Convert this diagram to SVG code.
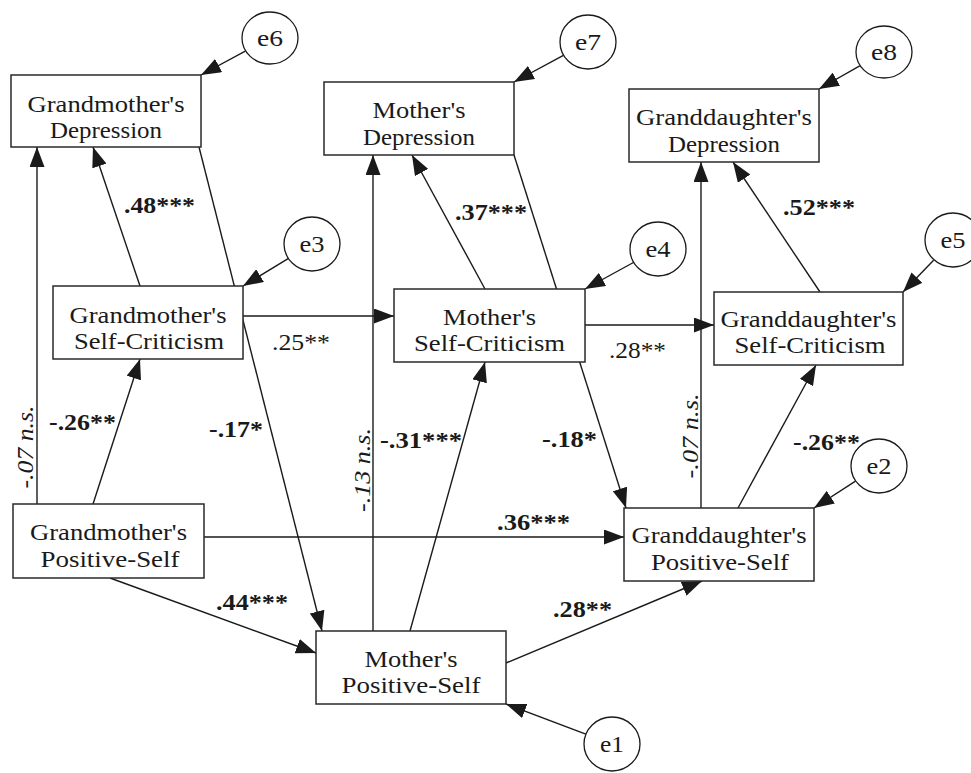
<svg xmlns="http://www.w3.org/2000/svg" width="971" height="773" viewBox="0 0 971 773">
<defs>
<marker id="ah" viewBox="0 0 20 15" refX="20" refY="7.5" markerWidth="20" markerHeight="15" orient="auto" markerUnits="userSpaceOnUse">
<path d="M0,0 L20,7.5 L0,15 Z" fill="#1a1a1a"/>
</marker>
<style>
text{font-family:'Liberation Serif','Times New Roman',Times,serif;font-size:23.5px;fill:#1a1a1a}
.box{fill:#fff;stroke:#2a2a2a;stroke-width:1.5}
.err{fill:#fff;stroke:#1a1a1a;stroke-width:1.3}
.t{text-anchor:middle;font-size:24px}
.c line{stroke:#1a1a1a;stroke-width:1.4;marker-end:url(#ah)}
.lb{font-weight:bold}
.li{font-style:italic;text-anchor:middle}
</style>
</defs>
<rect width="971" height="773" fill="#fff"/>

<g id="connectors" class="c">
<line x1="245.3" y1="51.2" x2="201" y2="75"/>
<line x1="563.4" y1="55.3" x2="514" y2="82"/>
<line x1="859.7" y1="65.9" x2="819" y2="89"/>
<line x1="288.1" y1="258.6" x2="243" y2="286"/>
<line x1="633.4" y1="262.5" x2="585" y2="289"/>
<line x1="933.6" y1="260.2" x2="903" y2="292"/>
<line x1="855.5" y1="481.2" x2="814" y2="508"/>
<line x1="585.8" y1="734.1" x2="506" y2="704"/>
<line x1="37" y1="504" x2="37" y2="147"/>
<line x1="93" y1="504" x2="140" y2="359"/>
<line x1="140" y1="286" x2="93" y2="147"/>
<line x1="199" y1="147" x2="322" y2="631"/>
<line x1="243" y1="316" x2="394" y2="316"/>
<line x1="373" y1="631" x2="373" y2="155"/>
<line x1="410" y1="631" x2="485" y2="362"/>
<line x1="485" y1="289" x2="412" y2="155"/>
<line x1="514" y1="155" x2="626" y2="508"/>
<line x1="585" y1="325" x2="714" y2="325"/>
<line x1="701" y1="508" x2="701" y2="162"/>
<line x1="738" y1="508" x2="816" y2="365"/>
<line x1="820" y1="292" x2="733" y2="162"/>
<line x1="204" y1="537" x2="624" y2="537"/>
<line x1="110" y1="578" x2="316" y2="653"/>
<line x1="506" y1="663" x2="702" y2="581"/>
</g>

<g id="labels">
<text class="lb" x="124" y="213" textLength="71" lengthAdjust="spacingAndGlyphs">.48***</text>
<text class="lb" x="49" y="430" textLength="67" lengthAdjust="spacingAndGlyphs">-.26**</text>
<text class="lb" x="209" y="437" textLength="54" lengthAdjust="spacingAndGlyphs">-.17*</text>
<text x="272" y="350" textLength="58" lengthAdjust="spacingAndGlyphs">.25**</text>
<text class="lb" x="380" y="448" textLength="82" lengthAdjust="spacingAndGlyphs">-.31***</text>
<text class="lb" x="542" y="447" textLength="55" lengthAdjust="spacingAndGlyphs">-.18*</text>
<text class="lb" x="455" y="220" textLength="72" lengthAdjust="spacingAndGlyphs">.37***</text>
<text class="lb" x="783" y="215" textLength="72" lengthAdjust="spacingAndGlyphs">.52***</text>
<text x="609" y="358" textLength="57" lengthAdjust="spacingAndGlyphs">.28**</text>
<text class="lb" x="793" y="450" textLength="67" lengthAdjust="spacingAndGlyphs">-.26**</text>
<text class="lb" x="497" y="530" textLength="73" lengthAdjust="spacingAndGlyphs">.36***</text>
<text class="lb" x="553" y="617" textLength="59" lengthAdjust="spacingAndGlyphs">.28**</text>
<text class="lb" x="216" y="610" textLength="72" lengthAdjust="spacingAndGlyphs">.44***</text>
<text class="li" transform="translate(33,447) rotate(-90)" textLength="83" lengthAdjust="spacingAndGlyphs">-.07 n.s.</text>
<text class="li" transform="translate(370,470) rotate(-90)" textLength="84" lengthAdjust="spacingAndGlyphs">-.13 n.s.</text>
<text class="li" transform="translate(698,436) rotate(-90)" textLength="85" lengthAdjust="spacingAndGlyphs">-.07 n.s.</text>
</g>

<g id="gm-depression">
<rect class="box" x="11" y="75" width="190" height="72"/>
<text class="t" x="106" y="112" textLength="157" lengthAdjust="spacingAndGlyphs">Grandmother's</text>
<text class="t" x="106" y="138" textLength="112" lengthAdjust="spacingAndGlyphs">Depression</text>
</g>
<g id="m-depression">
<rect class="box" x="324" y="82" width="190" height="73"/>
<text class="t" x="419" y="118" textLength="93" lengthAdjust="spacingAndGlyphs">Mother's</text>
<text class="t" x="419" y="145" textLength="112" lengthAdjust="spacingAndGlyphs">Depression</text>
</g>
<g id="gd-depression">
<rect class="box" x="629" y="89" width="190" height="73"/>
<text class="t" x="724" y="125" textLength="176" lengthAdjust="spacingAndGlyphs">Granddaughter's</text>
<text class="t" x="724" y="152" textLength="112" lengthAdjust="spacingAndGlyphs">Depression</text>
</g>
<g id="gm-selfcrit">
<rect class="box" x="53" y="286" width="190" height="73"/>
<text class="t" x="148" y="323" textLength="157" lengthAdjust="spacingAndGlyphs">Grandmother's</text>
<text class="t" x="149" y="349" textLength="150" lengthAdjust="spacingAndGlyphs">Self-Criticism</text>
</g>
<g id="m-selfcrit">
<rect class="box" x="394" y="289" width="191" height="73"/>
<text class="t" x="489.5" y="325" textLength="93" lengthAdjust="spacingAndGlyphs">Mother's</text>
<text class="t" x="489.5" y="351" textLength="151" lengthAdjust="spacingAndGlyphs">Self-Criticism</text>
</g>
<g id="gd-selfcrit">
<rect class="box" x="714" y="292" width="189" height="73"/>
<text class="t" x="808.5" y="327" textLength="176" lengthAdjust="spacingAndGlyphs">Granddaughter's</text>
<text class="t" x="810" y="353" textLength="151" lengthAdjust="spacingAndGlyphs">Self-Criticism</text>
</g>
<g id="gm-posself">
<rect class="box" x="13" y="504" width="191" height="74"/>
<text class="t" x="108.5" y="540" textLength="157" lengthAdjust="spacingAndGlyphs">Grandmother's</text>
<text class="t" x="110" y="567" textLength="139" lengthAdjust="spacingAndGlyphs">Positive-Self</text>
</g>
<g id="m-posself">
<rect class="box" x="316" y="631" width="190" height="73"/>
<text class="t" x="411" y="667" textLength="93" lengthAdjust="spacingAndGlyphs">Mother's</text>
<text class="t" x="411" y="693" textLength="139" lengthAdjust="spacingAndGlyphs">Positive-Self</text>
</g>
<g id="gd-posself">
<rect class="box" x="624" y="508" width="190" height="73"/>
<text class="t" x="719" y="543" textLength="175" lengthAdjust="spacingAndGlyphs">Granddaughter's</text>
<text class="t" x="720" y="570" textLength="138" lengthAdjust="spacingAndGlyphs">Positive-Self</text>
</g>

<g id="e1"><ellipse class="err" cx="612" cy="744" rx="28" ry="27"/><text class="t" x="612" y="752" textLength="24" lengthAdjust="spacingAndGlyphs">e1</text></g>
<g id="e2"><ellipse class="err" cx="879" cy="466" rx="28" ry="27"/><text class="t" x="879" y="474" textLength="25" lengthAdjust="spacingAndGlyphs">e2</text></g>
<g id="e3"><ellipse class="err" cx="312" cy="244" rx="28" ry="27"/><text class="t" x="312" y="252" textLength="25" lengthAdjust="spacingAndGlyphs">e3</text></g>
<g id="e4"><ellipse class="err" cx="658" cy="249" rx="28" ry="27"/><text class="t" x="658" y="257" textLength="25" lengthAdjust="spacingAndGlyphs">e4</text></g>
<g id="e5"><ellipse class="err" cx="953" cy="240" rx="28" ry="27"/><text class="t" x="953" y="248" textLength="25" lengthAdjust="spacingAndGlyphs">e5</text></g>
<g id="e6"><ellipse class="err" cx="270" cy="38" rx="28" ry="26"/><text class="t" x="270" y="46" textLength="26" lengthAdjust="spacingAndGlyphs">e6</text></g>
<g id="e7"><ellipse class="err" cx="588" cy="42" rx="28" ry="27"/><text class="t" x="588" y="50" textLength="26" lengthAdjust="spacingAndGlyphs">e7</text></g>
<g id="e8"><ellipse class="err" cx="884" cy="52" rx="28" ry="26"/><text class="t" x="884" y="60" textLength="26" lengthAdjust="spacingAndGlyphs">e8</text></g>
</svg>
